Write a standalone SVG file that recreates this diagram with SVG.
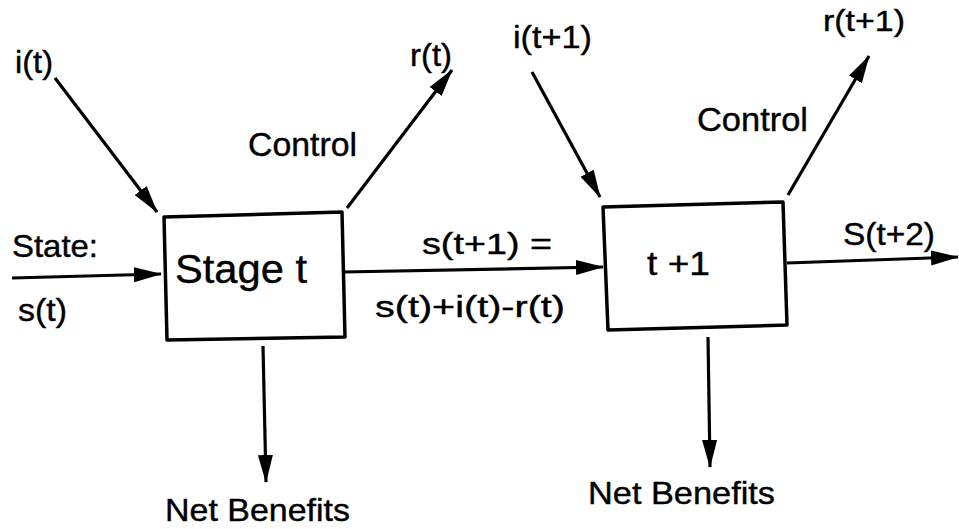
<svg xmlns="http://www.w3.org/2000/svg" width="959" height="529" viewBox="0 0 959 529">
  <style>
    .lbl { font-family: "Liberation Sans", Arial, sans-serif; fill: #000; stroke: #000; stroke-width: 0.4; }
    .box { fill: #fff; stroke: #000; stroke-width: 3.5; stroke-linejoin: round; }
    .edge { fill: none; stroke: #000; stroke-width: 3.2; marker-end: url(#head); }
  </style>
  <defs>
    <marker id="head" markerUnits="userSpaceOnUse" markerWidth="30" markerHeight="18" refX="27" refY="7.5" orient="auto">
      <path d="M0,0 L28,7.5 L0,15 Z" fill="#000"/>
    </marker>
  </defs>
  <rect width="959" height="529" fill="#fff"/>

  <g id="connectors">
    <line class="edge" x1="55" y1="78" x2="157" y2="212"/>
    <line class="edge" x1="347" y1="208" x2="452" y2="70"/>
    <line class="edge" x1="12" y1="278" x2="161" y2="274"/>
    <line class="edge" x1="343" y1="272" x2="603" y2="267"/>
    <line class="edge" x1="787" y1="263" x2="958" y2="257"/>
    <line class="edge" x1="532" y1="72" x2="600" y2="197"/>
    <line class="edge" x1="788" y1="195" x2="869" y2="56"/>
    <line class="edge" x1="263" y1="346" x2="266" y2="482"/>
    <line class="edge" x1="708" y1="337" x2="710" y2="467"/>
  </g>

  <g id="stage-t">
    <polygon class="box" points="164,217 342,212 345,337 167,340"/>
    <text class="lbl" x="175" y="283" font-size="40" textLength="132" lengthAdjust="spacingAndGlyphs">Stage t</text>
  </g>

  <g id="stage-t1">
    <polygon class="box" points="603,207 783,202 787,325 608,330"/>
    <text class="lbl" x="647" y="275" font-size="34" textLength="63" lengthAdjust="spacingAndGlyphs">t +1</text>
  </g>

  <g id="labels">
    <text class="lbl" x="15" y="73" font-size="32" textLength="38" lengthAdjust="spacingAndGlyphs">i(t)</text>
    <text class="lbl" x="410" y="66" font-size="32" textLength="42" lengthAdjust="spacingAndGlyphs">r(t)</text>
    <text class="lbl" x="248" y="156" font-size="33" textLength="109" lengthAdjust="spacingAndGlyphs">Control</text>
    <text class="lbl" x="12" y="257" font-size="32" textLength="86" lengthAdjust="spacingAndGlyphs">State:</text>
    <text class="lbl" x="18" y="321" font-size="32" textLength="49" lengthAdjust="spacingAndGlyphs">s(t)</text>
    <text class="lbl" x="422" y="254" font-size="30" textLength="130" lengthAdjust="spacingAndGlyphs">s(t+1)  =</text>
    <text class="lbl" x="375" y="317" font-size="30" textLength="190" lengthAdjust="spacingAndGlyphs">s(t)+i(t)-r(t)</text>
    <text class="lbl" x="513" y="48" font-size="32" textLength="79" lengthAdjust="spacingAndGlyphs">i(t+1)</text>
    <text class="lbl" x="823" y="31" font-size="30" textLength="82" lengthAdjust="spacingAndGlyphs">r(t+1)</text>
    <text class="lbl" x="697" y="131" font-size="33" textLength="111" lengthAdjust="spacingAndGlyphs">Control</text>
    <text class="lbl" x="843" y="245" font-size="32" textLength="92" lengthAdjust="spacingAndGlyphs">S(t+2)</text>
    <text class="lbl" x="165" y="521" font-size="32" textLength="185" lengthAdjust="spacingAndGlyphs">Net Benefits</text>
    <text class="lbl" x="588" y="504" font-size="32" textLength="187" lengthAdjust="spacingAndGlyphs">Net Benefits</text>
  </g>
</svg>
